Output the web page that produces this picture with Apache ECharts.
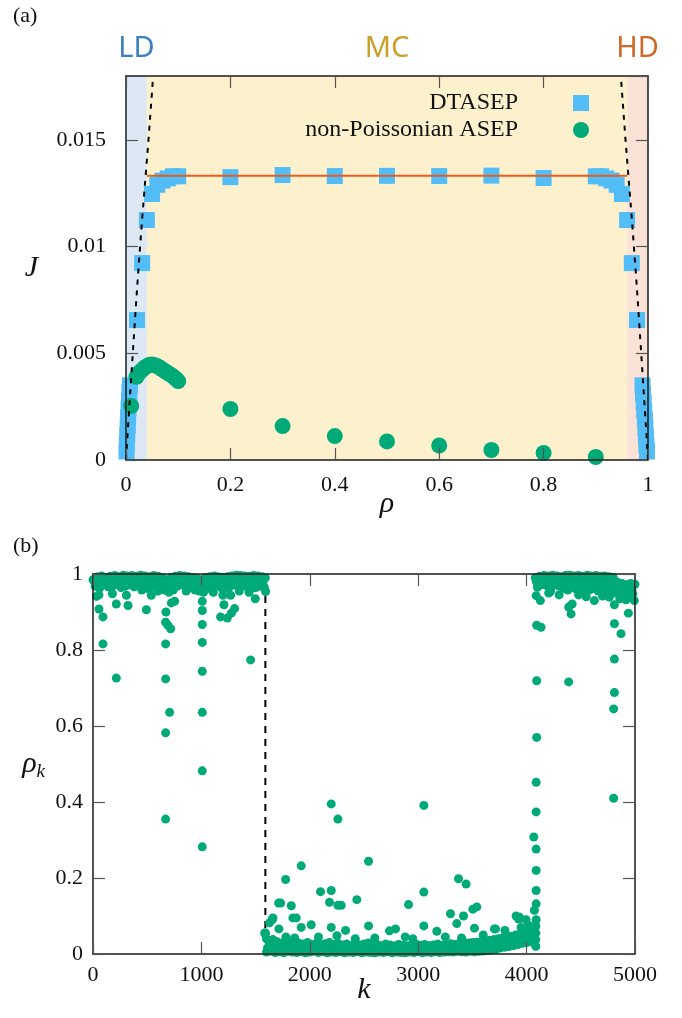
<!DOCTYPE html>
<html>
<head>
<meta charset="utf-8">
<script src="https://cdn.jsdelivr.net/npm/echarts@6/dist/echarts.min.js"></script>
<style>
  html, body { margin: 0; padding: 0; background: #fff; }
  #chart { width: 682px; height: 1018px; }
</style>
</head>
<body>
<div id="chart"></div>
<script>
// ---------- panel (a): current J against density rho ----------
const regionNames = ['LD', 'MC', 'HD'];
const regionStart = [0, 0.04, 0.96];
const regionEnd = [0.04, 0.96, 1];
const regionFill = ['#dce9f5', '#fdf1cd', '#fae3d6'];
const regionText = ['#3a7fc0', '#c9a128', '#cf6a26'];

// [rho, J]
const dtasep = [
  [0.001, 0.0004], [0.0017, 0.0008], [0.0025, 0.0012], [0.0033, 0.0016], [0.004, 0.002],
  [0.0048, 0.0024], [0.0057, 0.0028], [0.0066, 0.0032], [0.0076, 0.0035],
  [0.021, 0.00656], [0.031, 0.00923], [0.04, 0.01125], [0.05, 0.01247], [0.06, 0.0129],
  [0.07, 0.0131], [0.08, 0.0132], [0.09, 0.0133], [0.1, 0.0133],
  [0.2, 0.01326], [0.3, 0.01336], [0.4, 0.01331], [0.5, 0.01332], [0.6, 0.01331],
  [0.7, 0.01333], [0.8, 0.01322],
  [0.9, 0.0133], [0.91, 0.0133], [0.92, 0.0132], [0.93, 0.0131], [0.94, 0.0129],
  [0.95, 0.01247], [0.96, 0.01125], [0.969, 0.00923], [0.979, 0.00656],
  [0.9895, 0.0035], [0.9905, 0.0031], [0.9917, 0.0027], [0.9928, 0.0023], [0.994, 0.0019],
  [0.995, 0.0015], [0.996, 0.0011], [0.997, 0.0007], [0.998, 0.0004]
];
const npAsep = [
  [0.01, 0.00253], [0.02, 0.0039], [0.025, 0.00408], [0.03, 0.0042], [0.035, 0.00432],
  [0.04, 0.0044], [0.045, 0.00446], [0.05, 0.00448], [0.055, 0.00444], [0.06, 0.0044],
  [0.065, 0.00432], [0.07, 0.00424], [0.075, 0.00416], [0.08, 0.00408], [0.085, 0.004],
  [0.09, 0.00392], [0.095, 0.00382], [0.1, 0.0037],
  [0.2, 0.00239], [0.3, 0.00159], [0.4, 0.00112], [0.5, 0.00087], [0.6, 0.00068],
  [0.7, 0.00047], [0.8, 0.00033], [0.9, 0.00014]
];
const mcCurrent = [[0.04, 0.01333], [0.96, 0.01333]];
const ldBoundary = [[0, 0], [0.013, 0.005], [0.027, 0.01], [0.043, 0.015], [0.052, 0.018]];
const hdBoundary = [[1, 0], [0.987, 0.005], [0.973, 0.01], [0.957, 0.015], [0.948, 0.018]];

// ---------- panel (b): site densities rho_k ----------
const dividerK = 1590;
// [k, rho_k]
const bandLeftTop = [
  [0, 0.985], [40, 0.992], [80, 0.995], [120, 0.99], [160, 0.994], [200, 0.996], [240, 0.993],
  [280, 0.997], [320, 0.995], [360, 0.996], [400, 0.994], [440, 0.997], [480, 0.995], [520, 0.993],
  [560, 0.996], [600, 0.994], [640, 0.99], [680, 0.985], [720, 0.99], [760, 0.994], [800, 0.996],
  [840, 0.995], [880, 0.993], [920, 0.991], [960, 0.988], [1000, 0.984], [1040, 0.99], [1080, 0.993],
  [1120, 0.995], [1160, 0.992], [1200, 0.99], [1240, 0.993], [1280, 0.995], [1320, 0.997], [1360, 0.996],
  [1400, 0.995], [1440, 0.994], [1480, 0.996], [1520, 0.995], [1560, 0.993], [1590, 0.99]
];
const bandLeftMid = [
  [10, 0.982], [50, 0.98], [90, 0.984], [130, 0.981], [170, 0.983], [210, 0.985], [250, 0.98],
  [290, 0.984], [330, 0.986], [370, 0.982], [410, 0.985], [450, 0.983], [490, 0.98], [530, 0.982],
  [570, 0.985], [610, 0.981], [650, 0.976], [690, 0.972], [730, 0.976], [770, 0.982], [810, 0.986],
  [850, 0.984], [890, 0.981], [930, 0.978], [970, 0.974], [1010, 0.97], [1050, 0.978], [1090, 0.983],
  [1130, 0.985], [1170, 0.981], [1210, 0.979], [1250, 0.982], [1290, 0.985], [1330, 0.984], [1370, 0.986],
  [1410, 0.983], [1450, 0.98], [1490, 0.982], [1530, 0.984], [1570, 0.982]
];
const bandLeftLow = [
  [20, 0.968], [60, 0.962], [100, 0.972], [140, 0.966], [180, 0.968], [220, 0.972], [260, 0.964],
  [300, 0.968], [340, 0.972], [380, 0.966], [420, 0.971], [460, 0.968], [500, 0.962], [540, 0.966],
  [580, 0.971], [620, 0.964], [660, 0.958], [700, 0.952], [740, 0.958], [780, 0.968], [820, 0.972],
  [860, 0.968], [900, 0.964], [940, 0.958], [980, 0.955], [1020, 0.952], [1060, 0.962], [1100, 0.968],
  [1140, 0.971], [1180, 0.964], [1220, 0.962], [1260, 0.966], [1300, 0.971], [1340, 0.968], [1380, 0.972],
  [1420, 0.966], [1460, 0.962], [1500, 0.964], [1540, 0.968], [1580, 0.966]
];
const scatterLeft = [
  [31, 0.941], [55, 0.945], [179, 0.948], [308, 0.944], [538, 0.944], [723, 0.924], [753, 0.928],
  [1198, 0.944], [1270, 0.944], [1497, 0.935], [1592, 0.954], [450, 0.958], [600, 0.955], [860, 0.955],
  [1110, 0.952], [1350, 0.955], [1440, 0.952],
  [55, 0.908], [92, 0.887], [92, 0.816], [215, 0.921], [215, 0.726], [323, 0.917], [492, 0.906],
  [673, 0.9], [670, 0.873], [691, 0.865], [716, 0.856], [670, 0.816], [670, 0.724], [707, 0.636],
  [670, 0.582], [670, 0.355], [1008, 0.928], [1008, 0.904], [1008, 0.867], [1008, 0.82], [1008, 0.744],
  [1008, 0.636], [1008, 0.482], [1008, 0.282], [1208, 0.919], [1177, 0.887], [1239, 0.884],
  [1276, 0.897], [1306, 0.909], [1454, 0.774]
];
const bandMidLow = [
  [1600, 0.005], [1640, 0.008], [1680, 0.004], [1720, 0.006], [1760, 0.003], [1800, 0.007], [1840, 0.005],
  [1880, 0.004], [1920, 0.006], [1960, 0.003], [2000, 0.005], [2040, 0.007], [2080, 0.004], [2120, 0.006],
  [2160, 0.003], [2200, 0.005], [2240, 0.004], [2280, 0.006], [2320, 0.003], [2360, 0.005], [2400, 0.004],
  [2440, 0.006], [2480, 0.003], [2520, 0.005], [2560, 0.004], [2600, 0.003], [2640, 0.005], [2680, 0.004],
  [2720, 0.006], [2760, 0.003], [2800, 0.005], [2840, 0.004], [2880, 0.003], [2920, 0.005], [2960, 0.004],
  [3000, 0.006], [3040, 0.003], [3080, 0.005], [3120, 0.004], [3160, 0.006], [3200, 0.004], [3240, 0.005],
  [3280, 0.006], [3320, 0.005], [3360, 0.007], [3400, 0.006], [3440, 0.005], [3480, 0.007], [3520, 0.006],
  [3560, 0.007], [3600, 0.008], [3640, 0.01], [3680, 0.011], [3720, 0.013], [3760, 0.016], [3800, 0.018],
  [3840, 0.02], [3880, 0.022], [3920, 0.025], [3960, 0.028], [4000, 0.03], [4040, 0.032]
];
const bandMidCentre = [
  [1610, 0.016], [1650, 0.02], [1690, 0.015], [1730, 0.014], [1770, 0.012], [1810, 0.016], [1850, 0.013],
  [1890, 0.014], [1930, 0.012], [1970, 0.015], [2010, 0.013], [2050, 0.014], [2090, 0.012], [2130, 0.015],
  [2170, 0.013], [2210, 0.014], [2250, 0.012], [2290, 0.013], [2330, 0.015], [2370, 0.012], [2410, 0.014],
  [2450, 0.012], [2490, 0.013], [2530, 0.015], [2570, 0.011], [2610, 0.013], [2650, 0.012], [2690, 0.014],
  [2730, 0.012], [2770, 0.011], [2810, 0.013], [2850, 0.012], [2890, 0.011], [2930, 0.013], [2970, 0.012],
  [3010, 0.014], [3050, 0.012], [3090, 0.013], [3130, 0.011], [3170, 0.013], [3210, 0.012], [3250, 0.014],
  [3290, 0.013], [3330, 0.014], [3370, 0.015], [3410, 0.015], [3450, 0.016], [3490, 0.017], [3530, 0.018],
  [3570, 0.019], [3610, 0.021], [3650, 0.022], [3690, 0.024], [3730, 0.026], [3770, 0.028], [3810, 0.03],
  [3850, 0.032], [3890, 0.035], [3930, 0.037], [3970, 0.04], [4010, 0.042], [4050, 0.045]
];
const bandMidHigh = [
  [1620, 0.034], [1660, 0.038], [1700, 0.032], [1740, 0.029], [1780, 0.026], [1820, 0.03], [1860, 0.025],
  [1900, 0.028], [1940, 0.026], [1980, 0.03], [2020, 0.025], [2060, 0.028], [2100, 0.025], [2140, 0.027],
  [2180, 0.03], [2220, 0.025], [2260, 0.028], [2300, 0.024], [2340, 0.026], [2380, 0.023], [2420, 0.027],
  [2460, 0.024], [2500, 0.026], [2540, 0.029], [2580, 0.023], [2620, 0.025], [2660, 0.022], [2700, 0.026],
  [2740, 0.024], [2780, 0.021], [2820, 0.025], [2860, 0.023], [2900, 0.022], [2940, 0.024], [2980, 0.026],
  [3020, 0.023], [3060, 0.025], [3100, 0.022], [3140, 0.024], [3180, 0.026], [3220, 0.023], [3260, 0.025],
  [3300, 0.027], [3340, 0.025], [3380, 0.028], [3420, 0.027], [3460, 0.029], [3500, 0.03], [3540, 0.031],
  [3580, 0.033], [3620, 0.034], [3660, 0.036], [3700, 0.038], [3740, 0.04], [3780, 0.042], [3820, 0.045],
  [3860, 0.047], [3900, 0.05], [3940, 0.053], [3980, 0.056], [4020, 0.059], [4060, 0.062]
];
const scatterMid = [
  [1583, 0.055], [1600, 0.04], [1629, 0.082], [1654, 0.09], [1660, 0.095], [1592, 0.055], [1715, 0.066],
  [1921, 0.07], [2013, 0.077], [2198, 0.07], [2330, 0.062], [2542, 0.074], [2735, 0.061], [2791, 0.066],
  [3052, 0.074], [3172, 0.06], [3519, 0.068], [3713, 0.066], [1780, 0.045], [1860, 0.042], [2080, 0.045],
  [2250, 0.048], [2420, 0.04], [2600, 0.042], [2880, 0.045], [2950, 0.04], [3250, 0.045], [3400, 0.042],
  [3600, 0.05], [3800, 0.062], [3950, 0.07], [4020, 0.075], [4050, 0.072],
  [1712, 0.134], [1731, 0.134], [1777, 0.196], [1829, 0.127], [1844, 0.095], [1875, 0.095], [1921, 0.232],
  [2099, 0.164], [2198, 0.395], [2198, 0.167], [2182, 0.136], [2259, 0.355], [2259, 0.128], [2290, 0.128],
  [2434, 0.143], [2542, 0.244], [2911, 0.13], [3052, 0.391], [3052, 0.163], [3298, 0.106], [3356, 0.08],
  [3372, 0.198], [3418, 0.1], [3442, 0.184], [3504, 0.118], [3541, 0.124], [3903, 0.1], [3927, 0.092],
  [3934, 0.097], [3995, 0.09], [3703, 0.066],
  [4085, 0.02], [4085, 0.038], [4085, 0.055], [4085, 0.073], [4088, 0.09], [4072, 0.115], [4088, 0.132],
  [4088, 0.167], [4088, 0.22], [4088, 0.276], [4066, 0.308], [4088, 0.374], [4088, 0.452], [4093, 0.57],
  [4093, 0.719], [4093, 0.865], [4133, 0.86], [4088, 0.943], [4127, 0.93]
];
const bandRightTop = [
  [4080, 0.99], [4120, 0.994], [4160, 0.996], [4200, 0.995], [4240, 0.997], [4280, 0.995], [4320, 0.993],
  [4360, 0.996], [4400, 0.997], [4440, 0.995], [4480, 0.996], [4520, 0.994], [4560, 0.997], [4600, 0.995],
  [4640, 0.996], [4680, 0.994], [4720, 0.995], [4760, 0.993], [4800, 0.99], [4840, 0.978], [4880, 0.975],
  [4920, 0.972], [4960, 0.975], [5000, 0.973]
];
const bandRightMid = [
  [4090, 0.98], [4130, 0.983], [4170, 0.984], [4210, 0.978], [4250, 0.985], [4290, 0.982], [4330, 0.978],
  [4370, 0.976], [4410, 0.981], [4450, 0.978], [4490, 0.975], [4530, 0.978], [4570, 0.976], [4610, 0.979],
  [4650, 0.975], [4690, 0.978], [4730, 0.976], [4770, 0.974], [4810, 0.968], [4850, 0.964], [4890, 0.962],
  [4930, 0.96], [4970, 0.96]
];
const bandRightLow = [
  [4100, 0.965], [4140, 0.972], [4180, 0.97], [4220, 0.96], [4260, 0.972], [4300, 0.968], [4340, 0.962],
  [4380, 0.958], [4420, 0.965], [4460, 0.96], [4500, 0.955], [4540, 0.96], [4580, 0.958], [4620, 0.962],
  [4660, 0.955], [4700, 0.96], [4740, 0.958], [4780, 0.955], [4820, 0.95], [4860, 0.955], [4900, 0.95],
  [4940, 0.945], [4980, 0.948]
];
const scatterRight = [
  [4204, 0.95], [4220, 0.954], [4625, 0.93], [4763, 0.939], [4917, 0.932], [4994, 0.93], [4388, 0.913],
  [4420, 0.921], [4410, 0.895], [4810, 0.919], [4939, 0.897], [4810, 0.869], [4871, 0.843], [4810, 0.776],
  [4388, 0.716], [4810, 0.688], [4803, 0.645], [4803, 0.41], [4480, 0.945], [4550, 0.94], [4700, 0.942],
  [4860, 0.935], [4300, 0.945]
];

const serif = 'Liberation Serif';
const green = '#00aa78';
const blue = '#52bdf7';

const chart = echarts.init(document.getElementById('chart'));

const border = { show: true, onZero: false, lineStyle: { color: '#1a1a1a', width: 1.5 } };
const ticks = { show: true, inside: true, length: 12, lineStyle: { color: '#555', width: 1.2 } };
const labels = { fontFamily: serif, fontSize: 22, color: '#111' };
const mirror = { axisLine: border, axisTick: ticks, axisLabel: { show: false }, splitLine: { show: false }, z: 10 };

chart.setOption({
  animation: false,
  backgroundColor: '#fff',
  title: [
    { text: '(a)', left: 8, top: 0, textStyle: { fontFamily: serif, fontSize: 22, fontWeight: 'normal', color: '#111' } },
    { text: '(b)', left: 8, top: 530, textStyle: { fontFamily: serif, fontSize: 22, fontWeight: 'normal', color: '#111' } }
  ],
  grid: [
    { left: 126, top: 76, width: 522, height: 384 },
    { left: 93, top: 574, width: 542, height: 380 }
  ],
  legend: [
    {
      data: ['DTASEP'], right: 88, top: 86, align: 'right', itemWidth: 16, itemHeight: 16,
      textStyle: { fontFamily: serif, fontSize: 24, color: '#111', padding: [0, 50, 0, 0] }
    },
    {
      data: ['non-Poissonian ASEP'], right: 88, top: 113, align: 'right', itemWidth: 16, itemHeight: 16,
      textStyle: { fontFamily: serif, fontSize: 24, color: '#111', padding: [0, 50, 0, 0] }
    }
  ],
  xAxis: [
    {
      gridIndex: 0, type: 'value', min: 0, max: 1, interval: 0.2, z: 10,
      axisLine: border, axisTick: ticks, splitLine: { show: false },
      axisLabel: Object.assign({ margin: 14 }, labels),
      name: 'ρ', nameLocation: 'middle', nameGap: 29, nameMoveOverlap: false,
      nameTextStyle: { fontFamily: serif, fontStyle: 'italic', fontSize: 30, color: '#111' }
    },
    Object.assign({ gridIndex: 0, type: 'value', position: 'top', min: 0, max: 1, interval: 0.2 }, mirror),
    {
      gridIndex: 1, type: 'value', min: 0, max: 5000, interval: 1000, z: 10,
      axisLine: border, axisTick: ticks, splitLine: { show: false },
      axisLabel: Object.assign({ margin: 10, formatter: v => String(v) }, labels),
      name: 'k', nameLocation: 'middle', nameGap: 21, nameMoveOverlap: false,
      nameTextStyle: { fontFamily: serif, fontStyle: 'italic', fontSize: 30, color: '#111' }
    },
    Object.assign({ gridIndex: 1, type: 'value', position: 'top', min: 0, max: 5000, interval: 1000 }, mirror)
  ],
  yAxis: [
    {
      gridIndex: 0, type: 'value', min: 0, max: 0.018, interval: 0.005, z: 10,
      axisLine: border, axisTick: ticks, splitLine: { show: false },
      axisLabel: Object.assign({ margin: 20, showMaxLabel: false }, labels),
      name: 'J', nameLocation: 'middle', nameRotate: 0, nameGap: 88,
      nameTextStyle: { fontFamily: serif, fontStyle: 'italic', fontSize: 30, color: '#111' }
    },
    Object.assign({ gridIndex: 0, type: 'value', position: 'right', min: 0, max: 0.018, interval: 0.005 }, mirror),
    {
      gridIndex: 1, type: 'value', min: 0, max: 1, interval: 0.2, z: 10,
      axisLine: border, axisTick: ticks, splitLine: { show: false },
      axisLabel: Object.assign({ margin: 10 }, labels),
      name: '{r|ρ}{s|k}', nameLocation: 'middle', nameRotate: 0, nameGap: 48,
      nameTextStyle: {
        color: '#111',
        rich: {
          r: { fontFamily: serif, fontStyle: 'italic', fontSize: 30 },
          s: { fontFamily: serif, fontStyle: 'italic', fontSize: 19, padding: [16, 0, 0, 0] }
        }
      }
    },
    Object.assign({ gridIndex: 1, type: 'value', position: 'right', min: 0, max: 1, interval: 0.2 }, mirror)
  ],
  series: [
    {
      type: 'custom', xAxisIndex: 0, yAxisIndex: 0, silent: true, z: 1,
      data: regionNames.map((n, i) => [regionStart[i], regionEnd[i]]),
      encode: { x: [0, 1] },
      renderItem: (params, api) => {
        const i = params.dataIndex;
        const p0 = api.coord([api.value(0), 0.018]);
        const p1 = api.coord([api.value(1), 0]);
        return {
          type: 'group',
          children: [
            { type: 'rect', shape: { x: p0[0], y: p0[1], width: p1[0] - p0[0], height: p1[1] - p0[1] }, style: { fill: regionFill[i] } },
            {
              type: 'text',
              style: {
                text: regionNames[i], x: (p0[0] + p1[0]) / 2, y: p0[1] - 27, fill: regionText[i],
                fontSize: 29, fontFamily: 'Noto Sans', align: 'center', verticalAlign: 'middle'
              }
            }
          ]
        };
      }
    },
    {
      name: 'DTASEP', type: 'scatter', xAxisIndex: 0, yAxisIndex: 0, z: 2,
      symbol: 'rect', symbolSize: 16, itemStyle: { color: blue, opacity: 1 }, data: dtasep
    },
    {
      name: 'non-Poissonian ASEP', type: 'scatter', xAxisIndex: 0, yAxisIndex: 0, z: 3,
      symbol: 'circle', symbolSize: 16, itemStyle: { color: green, opacity: 1 }, data: npAsep
    },
    {
      type: 'line', xAxisIndex: 0, yAxisIndex: 0, z: 4, symbol: 'none', silent: true,
      lineStyle: { color: '#ea5b1e', width: 2 }, data: mcCurrent
    },
    {
      type: 'line', xAxisIndex: 0, yAxisIndex: 0, z: 5, symbol: 'none', silent: true, smooth: true,
      lineStyle: { color: '#000', width: 2, type: [5, 6] }, data: ldBoundary
    },
    {
      type: 'line', xAxisIndex: 0, yAxisIndex: 0, z: 5, symbol: 'none', silent: true, smooth: true,
      lineStyle: { color: '#000', width: 2, type: [5, 6] }, data: hdBoundary
    },
    {
      type: 'line', xAxisIndex: 2, yAxisIndex: 2, z: 2, symbol: 'none', silent: true,
      lineStyle: { color: '#000', width: 2, type: [7, 6] }, data: [[dividerK, 0], [dividerK, 1]]
    },
    {
      type: 'scatter', xAxisIndex: 2, yAxisIndex: 2, z: 3, symbol: 'circle', symbolSize: 9,
      itemStyle: { color: green, opacity: 1 },
      data: [].concat(bandLeftTop, bandLeftMid, bandLeftLow, scatterLeft,
        bandMidLow, bandMidCentre, bandMidHigh, scatterMid,
        bandRightTop, bandRightMid, bandRightLow, scatterRight)
    }
  ]
});
</script>
</body>
</html>
